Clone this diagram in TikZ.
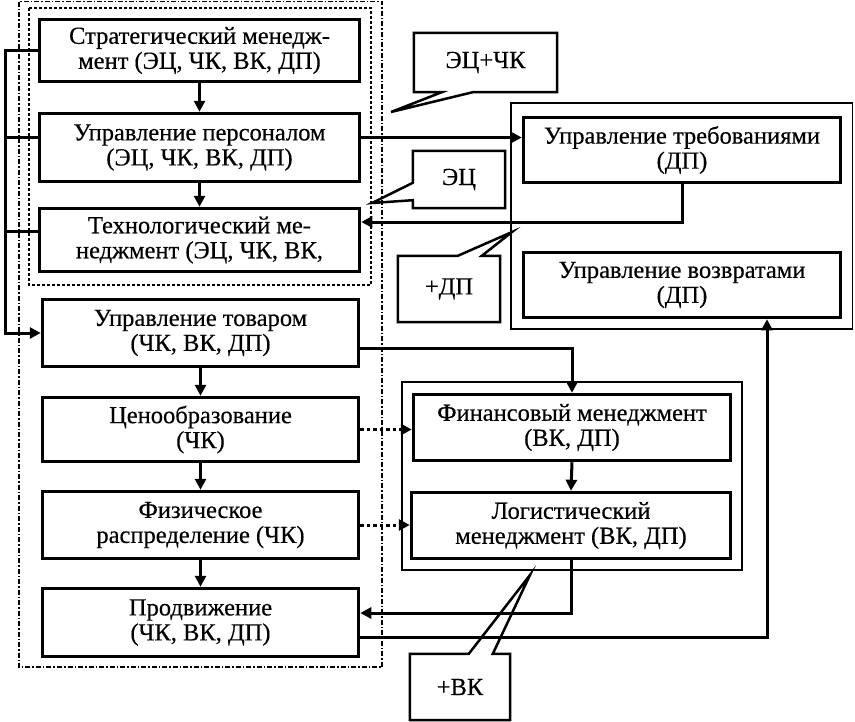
\documentclass[tikz,border=0pt]{standalone}
\usepackage{fontspec}
\setmainfont{Liberation Serif}
\newfontface\boxfont[FakeBold=0.4]{Liberation Serif}
\usetikzlibrary{arrows.meta}

\begin{document}
\begin{tikzpicture}[x=1pt,y=-1pt,
  block/.style={draw=black,line width=3.5pt,minimum width=318pt,align=center,inner sep=0pt,font=\boxfont\fontsize{24.5}{25}\selectfont},
  link/.style={line width=3pt,-{Triangle[length=11pt,width=11pt]}},
  plain/.style={line width=3pt},
  dots/.style={dash pattern=on 3.5pt off 3pt},
  group/.style={draw=black,line width=1.2pt},
  note/.style={minimum width=#1,inner sep=0pt,font=\boxfont\fontsize{24.5}{25}\selectfont},
  outline/.style={line width=2.5pt}]
\useasboundingbox (0,0) rectangle (855,721);
% frames
\draw[line width=1.2pt,dash pattern=on 5pt off 2pt on 1.5pt off 2pt] (19,1.5) rectangle (382,667);
\draw[line width=1.2pt,dash pattern=on 3pt off 2pt] (29,8) rectangle (371,285);
\draw[group] (511,103) rectangle (852.5,329);
\draw[group] (402,382) rectangle (742,570);
% left column
\node[block,minimum height=62pt,minimum width=320pt] (strat) at (199.5,50.5) {Стратегический менедж-\\мент (ЭЦ, ЧК, ВК, ДП)};
\node[block,minimum height=68pt,minimum width=320pt] (pers) at (199.5,147.5) {Управление персоналом\\(ЭЦ, ЧК, ВК, ДП)};
\node[block,minimum height=63pt,minimum width=320pt] (tech) at (199.5,240) {Технологический ме-\\неджмент (ЭЦ, ЧК, ВК,};
\node[block,minimum height=67pt,minimum width=316pt] (tovar) at (200.5,333) {Управление товаром\\(ЧК, ВК, ДП)};
\node[block,minimum height=64pt,minimum width=316pt] (cena) at (200.5,429.5) {Ценообразование\\(ЧК)};
\node[block,minimum height=67pt,minimum width=316pt] (fiz) at (200.5,525) {Физическое\\распределение (ЧК)};
\node[block,minimum height=68pt,minimum width=316pt] (prod) at (200.5,622.5) {Продвижение\\(ЧК, ВК, ДП)};
% right column
\node[block,minimum height=65pt,minimum width=317pt] (treb) at (682,150) {Управление требованиями\\(ДП)};
\node[block,minimum height=65pt,minimum width=317pt] (vozv) at (682,285) {Управление возвратами\\(ДП)};
\node[block,minimum height=66pt,minimum width=317pt] (fin) at (572,427.5) {Финансовый менеджмент\\(ВК, ДП)};
\node[block,minimum height=66pt,minimum width=319pt] (log) at (571,525.5) {Логистический\\менеджмент (ВК, ДП)};
% notes
\node[note=143pt,minimum height=59pt] (n1) at (485.5,62.5) {ЭЦ+ЧК};
\node[note=92pt,minimum height=57pt] (n2) at (459,179.5) {ЭЦ};
\node[note=102pt,minimum height=66pt] (n3) at (449,289) {+ДП};
\node[note=100pt,minimum height=66pt] (n4) at (460,687) {+ВК};
\coordinate (tip1) at (391,112);
\coordinate (tip2) at (372,203);
\coordinate (tip3) at (512,232);
\coordinate (tip4) at (530,575);
\draw[outline] (n1.south west) -- (n1.north west) -- (n1.north east) -- (n1.south east)
  -- ([xshift=59pt]n1.south west) -- (tip1) -- ([xshift=28pt]n1.south west) -- cycle;
\draw[outline] (n2.north west) -- (n2.north east) -- (n2.south east) -- (n2.south west)
  -- ([yshift=8pt]n2.south west) -- (tip2) -- ([yshift=-32pt]n2.north west) -- cycle;
\draw[outline] (n3.north west) -- ([xshift=60pt]n3.north west) -- (tip3) -- ([xshift=84pt]n3.north west)
  -- (n3.north east) -- (n3.south east) -- (n3.south west) -- cycle;
\draw[outline] (n4.north west) -- ([xshift=59pt]n4.north west) -- (tip4) -- ([xshift=83pt]n4.north west)
  -- (n4.north east) -- (n4.south east) -- (n4.south west) -- cycle;
% links
\foreach \a/\b in {strat/pers,pers/tech,tovar/cena,cena/fiz,fiz/prod}
  \draw[link] (\a.south) -- (\b.north);
\coordinate (trunk) at (5,0);
\coordinate (pers w) at ([yshift=10pt]pers.west);
\coordinate (tech w) at ([yshift=9pt]tech.west);
\draw[link] (strat.west) -- (strat.west -| trunk) -- (trunk |- tovar.west) -- (tovar.west);
\draw[plain] (pers w) -- (pers w -| trunk);
\draw[plain] (tech w) -- (tech w -| trunk);
\coordinate (pers e) at ([yshift=10pt]pers.east);
\draw[link] (pers e) -- (pers e -| treb.west);
\coordinate (tech e) at ([yshift=18pt]tech.east);
\draw[link] (treb.south) |- (tech e);
\coordinate (tovar e) at ([yshift=-15pt]tovar.east);
\draw[link] (tovar e) -| (fin.north);
\draw[link] (fin.south) -- (log.north);
\draw[link,dots] (cena.east) -- (cena.east -| fin.west);
\draw[link,dots] (fiz.east) -- (fiz.east -| log.west);
\coordinate (prod in) at ([yshift=9.5pt]prod.east);
\draw[link] (log.south) |- (prod in);
\coordinate (prod out) at ([yshift=-15pt]prod.east);
\coordinate (vozv in) at ([xshift=85pt]vozv.south);
\draw[link] (prod out) -| (vozv in);
\end{tikzpicture}
\end{document}
